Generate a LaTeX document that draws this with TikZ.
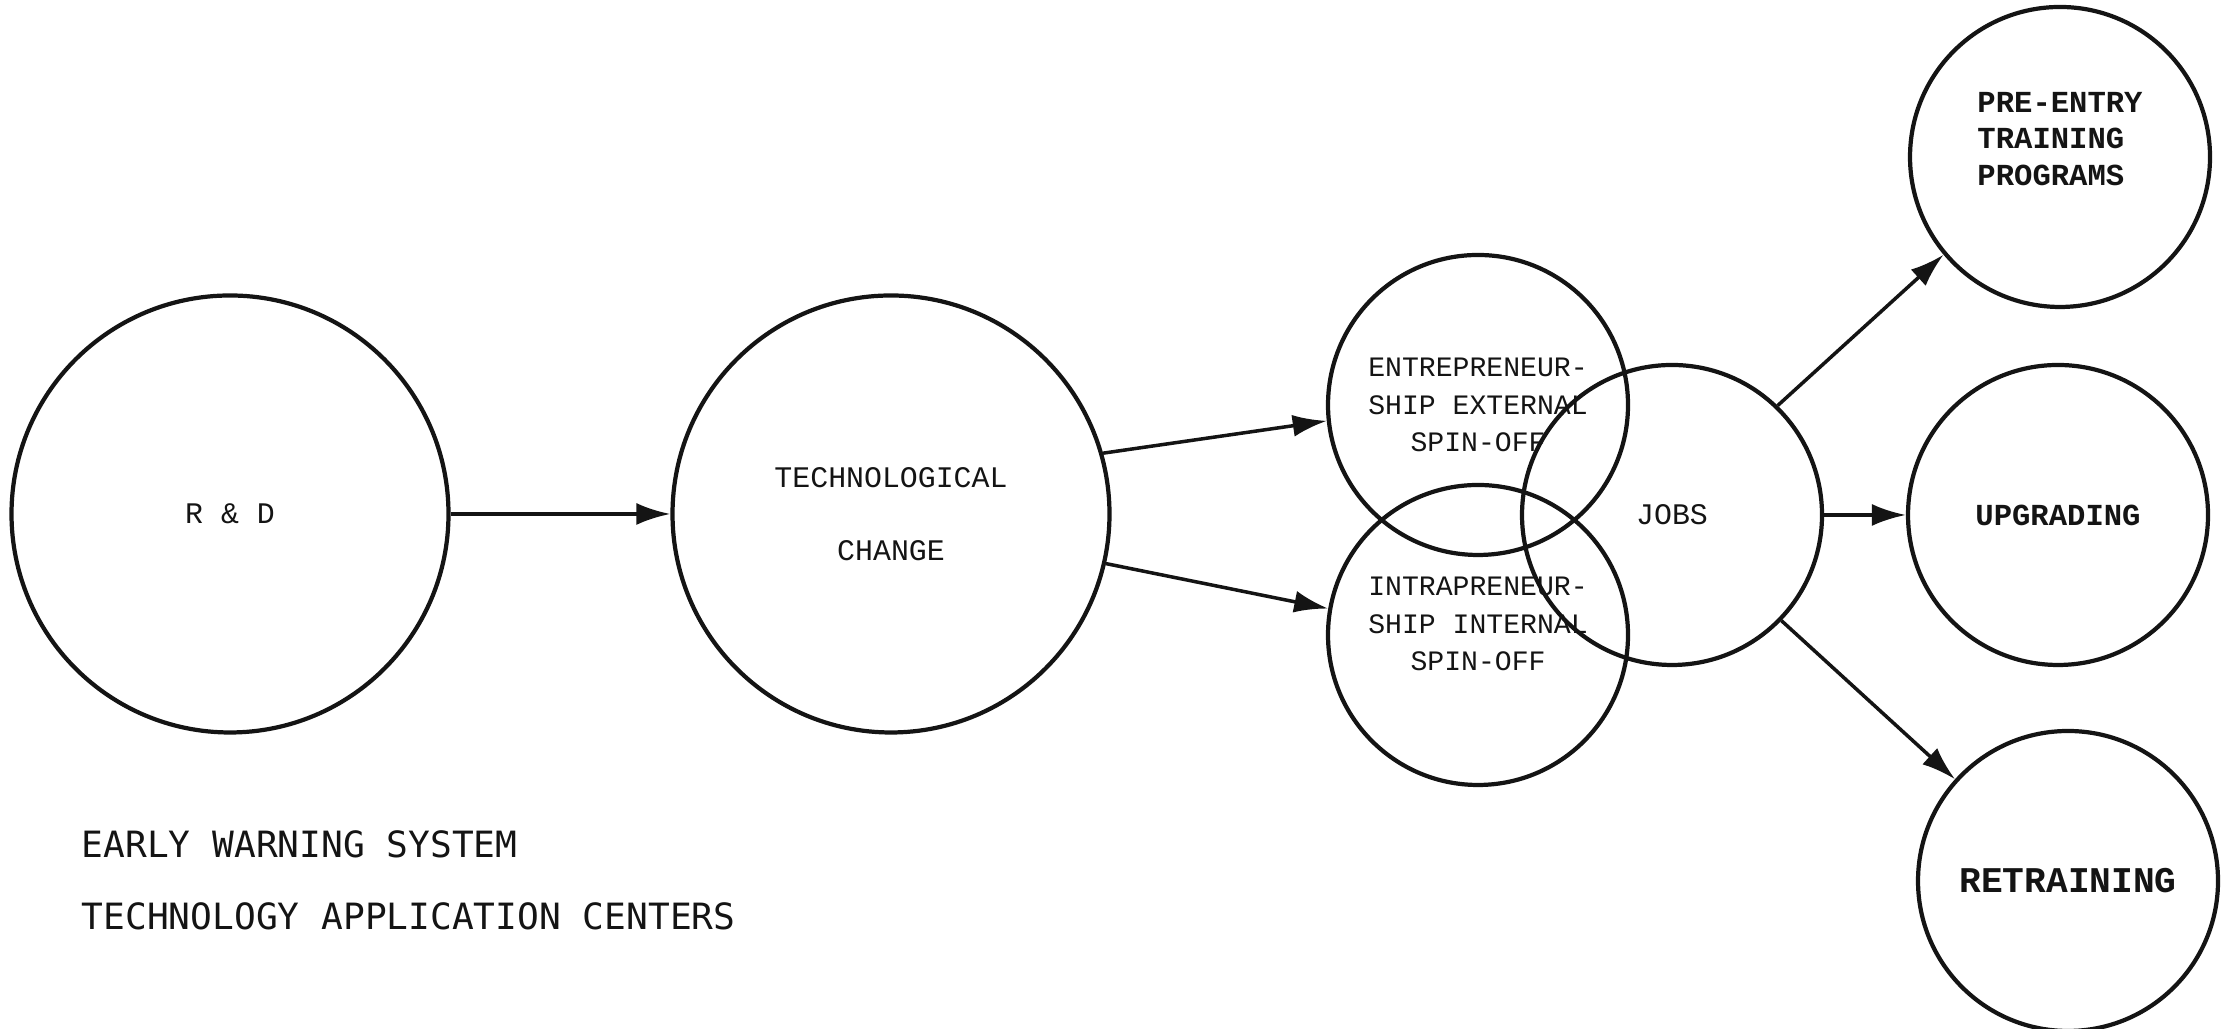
\documentclass[tikz,border=0pt]{standalone}
\usepackage{fontspec}
\setmonofont{Liberation Mono}
\newfontfamily\capfont{DejaVu Sans Mono}
\usetikzlibrary{arrows.meta,calc}
\definecolor{ink}{HTML}{141414}
\tikzset{
  stage/.style={circle,draw=ink,line width=1.2pt,inner sep=0pt,align=center,
    font=\ttfamily\fontsize{8.5}{10.7}\selectfont,text=ink},
  big/.style={stage,minimum size=43.7mm},
  small/.style={stage,minimum size=30mm},
  outcome/.style={small,font=\ttfamily\bfseries\fontsize{8.7}{10.3}\selectfont},
  tag/.style={inner sep=0pt,align=center,text=ink},
  flow/.style={-{Latex[length=3.4mm,width=2.2mm]},line width=1pt,draw=ink},
  note/.style={anchor=base west,inner sep=0pt,font=\capfont\fontsize{10.3}{12}\selectfont,text=ink},
}

\begin{document}
\begin{tikzpicture}
  \useasboundingbox (0,0) rectangle (22.29,10.29);
  % --- innovation chain ---
  \node[big] (rd) at (2.30,5.15) {R \& D};
  \node[big,font=\ttfamily\fontsize{8.5}{20.7}\selectfont] (tech) at (8.91,5.15)
    {TECHNOLOGICAL\\CHANGE};
  \node[small,font=\ttfamily\fontsize{8}{10.7}\selectfont] (entre) at (14.78,6.24)
    {ENTREPRENEUR-\\SHIP EXTERNAL\\SPIN-OFF};
  \node[small] (intra) at (14.78,3.94) {};
  \node[tag,font=\ttfamily\fontsize{8}{10.7}\selectfont] (intra-t)
    at ($(intra)+(0,0.11)$) {INTRAPRENEUR-\\SHIP INTERNAL\\SPIN-OFF};
  \node[small] (jobs) at (16.72,5.14) {JOBS};
  % --- training outcomes ---
  \node[outcome] (preentry) at (20.60,8.72) {};
  \node[tag,align=left,font=\ttfamily\bfseries\fontsize{8.7}{10.3}\selectfont] (preentry-t)
    at ($(preentry)+(0,0.18)$) {PRE-ENTRY\\TRAINING\\PROGRAMS};
  \node[outcome] (upgrade) at (20.58,5.14) {UPGRADING};
  \node[outcome,font=\ttfamily\bfseries\fontsize{10.3}{12}\selectfont] (retrain) at (20.68,1.48) {RETRAINING};

  \draw[flow] (rd.east) -- (tech.west);
  \draw[flow] (tech.16) -- (entre.186);
  \draw[flow] (tech.347) -- (intra.170);
  \draw[flow] (jobs.46) -- (preentry.220);
  \draw[flow] (jobs.east) -- (upgrade.west);
  \draw[flow] (jobs.316) -- (retrain.138);

  \node[note] (ews) at (0.81,1.71) {EARLY WARNING SYSTEM};
  \node[note] (tac) at (0.81,0.99) {TECHNOLOGY APPLICATION CENTERS};
\end{tikzpicture}
\end{document}
